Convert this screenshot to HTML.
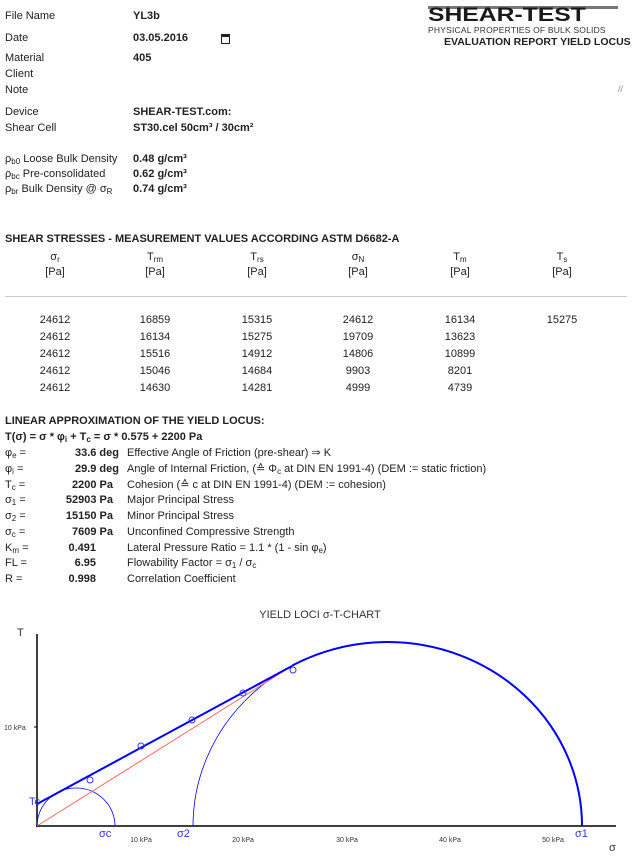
<!DOCTYPE html>
<html style="overflow:hidden"><head><meta charset="utf-8"><style>
html,body{margin:0;width:633px;height:861px;overflow:hidden}
body{background:#fff;font-family:"Liberation Sans",sans-serif;font-size:11px;color:#222;position:relative}
.a{position:absolute;white-space:nowrap;line-height:13px}
b{font-weight:bold}
sub{font-size:8px;vertical-align:-2px;line-height:0}
.c{position:absolute;width:80px;text-align:center;margin-left:-40px;line-height:13px}
.r{position:absolute;text-align:right;white-space:nowrap;line-height:13px}
</style></head><body>
<div class="a" style="left:5px;top:10px">File Name</div><div class="a" style="left:133px;top:10px"><b>YL3b</b></div>
<div class="a" style="left:5px;top:32px">Date</div><div class="a" style="left:133px;top:32px"><b>03.05.2016</b></div>
<div class="a" style="left:221px;top:34px;width:7px;height:6px;border:1.5px solid #222;border-top-width:3px"></div>
<div class="a" style="left:5px;top:52px">Material</div><div class="a" style="left:133px;top:52px"><b>405</b></div>
<div class="a" style="left:5px;top:68px">Client</div>
<div class="a" style="left:5px;top:84px">Note</div>
<div class="a" style="left:618px;top:83px;color:#888;font-size:9px">//</div>
<div class="a" style="left:5px;top:106px">Device</div><div class="a" style="left:133px;top:106px"><b>SHEAR-TEST.com:</b></div>
<div class="a" style="left:5px;top:122px">Shear Cell</div><div class="a" style="left:133px;top:122px"><b>ST30.cel 50cm³ / 30cm²</b></div>
<div class="a" style="left:5px;top:153px">ρ<sub>b0</sub> Loose Bulk Density</div><div class="a" style="left:133px;top:153px"><b>0.48 g/cm³</b></div>
<div class="a" style="left:5px;top:168px">ρ<sub>bc</sub> Pre-consolidated</div><div class="a" style="left:133px;top:168px"><b>0.62 g/cm³</b></div>
<div class="a" style="left:5px;top:183px">ρ<sub>br</sub> Bulk Density @ σ<sub>R</sub></div><div class="a" style="left:133px;top:183px"><b>0.74 g/cm³</b></div>

<div class="a" style="left:428px;top:6px;width:190px;height:3px;background:#777"></div>
<div class="a" style="left:428px;top:8px;font-size:19px;line-height:16px;font-weight:bold;color:#1a1a1a;transform:scaleX(1.3);transform-origin:top left">SHEAR-TEST</div>
<div class="a" style="left:428px;top:25px;font-size:8.5px;line-height:10px;color:#333;letter-spacing:0.2px">PHYSICAL PROPERTIES OF BULK SOLIDS</div>
<div class="a" style="left:444px;top:36px;font-size:10.5px;font-weight:bold">EVALUATION REPORT YIELD LOCUS</div>

<div class="a" style="left:5px;top:233px;font-weight:bold">SHEAR STRESSES - MEASUREMENT VALUES ACCORDING ASTM D6682-A</div>
<div class="c" style="left:55px;top:251px">σ<sub>r</sub></div><div class="c" style="left:155px;top:251px">T<sub>rm</sub></div><div class="c" style="left:257px;top:251px">T<sub>rs</sub></div><div class="c" style="left:358px;top:251px">σ<sub>N</sub></div><div class="c" style="left:460px;top:251px">T<sub>m</sub></div><div class="c" style="left:562px;top:251px">T<sub>s</sub></div>
<div class="c" style="left:55px;top:266px">[Pa]</div><div class="c" style="left:155px;top:266px">[Pa]</div><div class="c" style="left:257px;top:266px">[Pa]</div><div class="c" style="left:358px;top:266px">[Pa]</div><div class="c" style="left:460px;top:266px">[Pa]</div><div class="c" style="left:562px;top:266px">[Pa]</div>
<div class="a" style="left:5px;top:296px;width:622px;height:1px;background:#ccc"></div>
<div class="c" style="left:55px;top:312px;line-height:17px">24612<br>24612<br>24612<br>24612<br>24612</div>
<div class="c" style="left:155px;top:312px;line-height:17px">16859<br>16134<br>15516<br>15046<br>14630</div>
<div class="c" style="left:257px;top:312px;line-height:17px">15315<br>15275<br>14912<br>14684<br>14281</div>
<div class="c" style="left:358px;top:312px;line-height:17px">24612<br>19709<br>14806<br>9903<br>4999</div>
<div class="c" style="left:460px;top:312px;line-height:17px">16134<br>13623<br>10899<br>8201<br>4739</div>
<div class="c" style="left:562px;top:312px;line-height:17px">15275</div>

<div class="a" style="left:5px;top:415px;font-weight:bold">LINEAR APPROXIMATION OF THE YIELD LOCUS:</div>
<div class="a" style="left:5px;top:431px;font-weight:bold">T(σ) = σ * φ<sub>i</sub> + T<sub>c</sub> = σ * 0.575 + 2200 Pa</div>

<div class="a" style="left:5px;top:447px">φ<sub>e</sub> =</div><div class="r" style="right:514px;top:447px;font-weight:bold">33.6 deg</div><div class="a" style="left:127px;top:447px">Effective Angle of Friction (pre-shear) ⇒ K</div>
<div class="a" style="left:5px;top:463px">φ<sub>i</sub> =</div><div class="r" style="right:514px;top:463px;font-weight:bold">29.9 deg</div><div class="a" style="left:127px;top:463px">Angle of Internal Friction, (≙ Φ<sub>c</sub> at DIN EN 1991-4) (DEM := static friction)</div>
<div class="a" style="left:5px;top:479px">T<sub>c</sub> =</div><div class="r" style="right:520px;top:479px;font-weight:bold">2200 Pa</div><div class="a" style="left:127px;top:479px">Cohesion (≙ c at DIN EN 1991-4) (DEM := cohesion)</div>
<div class="a" style="left:5px;top:494px">σ<sub>1</sub> =</div><div class="r" style="right:520px;top:494px;font-weight:bold">52903 Pa</div><div class="a" style="left:127px;top:494px">Major Principal Stress</div>
<div class="a" style="left:5px;top:510px">σ<sub>2</sub> =</div><div class="r" style="right:520px;top:510px;font-weight:bold">15150 Pa</div><div class="a" style="left:127px;top:510px">Minor Principal Stress</div>
<div class="a" style="left:5px;top:526px">σ<sub>c</sub> =</div><div class="r" style="right:520px;top:526px;font-weight:bold">7609 Pa</div><div class="a" style="left:127px;top:526px">Unconfined Compressive Strength</div>
<div class="a" style="left:5px;top:542px">K<sub>m</sub> =</div><div class="r" style="right:537px;top:542px;font-weight:bold">0.491</div><div class="a" style="left:127px;top:542px">Lateral Pressure Ratio = 1.1 * (1 - sin φ<sub>e</sub>)</div>
<div class="a" style="left:5px;top:557px">FL =</div><div class="r" style="right:537px;top:557px;font-weight:bold">6.95</div><div class="a" style="left:127px;top:557px">Flowability Factor = σ<sub>1</sub> / σ<sub>c</sub></div>
<div class="a" style="left:5px;top:573px">R =</div><div class="r" style="right:537px;top:573px;font-weight:bold">0.998</div><div class="a" style="left:127px;top:573px">Correlation Coefficient</div>

<svg style="position:absolute;left:0;top:0;display:block" width="633" height="861">
<defs>
<clipPath id="up"><rect x="0" y="600" width="633" height="226"/></clipPath>
<clipPath id="right"><rect x="292" y="600" width="340" height="226"/></clipPath>
</defs>
<text x="320" y="618" font-size="11" text-anchor="middle" fill="#333" font-family="Liberation Sans">YIELD LOCI σ-T-CHART</text>
<text x="17" y="636" font-size="11" fill="#333" font-family="Liberation Sans">T</text>
<text x="609" y="851" font-size="11" fill="#333" font-family="Liberation Sans">σ</text>
<line x1="37" y1="634" x2="37" y2="827" stroke="#000" stroke-width="1.5"/>
<line x1="36" y1="826" x2="616" y2="826" stroke="#000" stroke-width="1.5"/>
<line x1="34" y1="727" x2="37" y2="727" stroke="#000"/>
<text x="4" y="730" font-size="7" fill="#333" font-family="Liberation Sans">10 kPa</text>
<g font-size="7" fill="#333" font-family="Liberation Sans" text-anchor="middle">
<text x="141" y="842">10 kPa</text><text x="243" y="842">20 kPa</text><text x="347" y="842">30 kPa</text><text x="450" y="842">40 kPa</text><text x="553" y="842">50 kPa</text></g>
<ellipse cx="387.5" cy="826" rx="194.5" ry="184" fill="none" stroke="#00f" stroke-width="0.8" clip-path="url(#up)"/>
<ellipse cx="387.5" cy="826" rx="194.5" ry="184" fill="none" stroke="#00f" stroke-width="2" clip-path="url(#right)"/>
<ellipse cx="76" cy="826" rx="39" ry="38" fill="none" stroke="#00f" stroke-width="0.8" clip-path="url(#up)"/>
<line x1="37" y1="826" x2="292" y2="666" stroke="#f66" stroke-width="1"/>
<line x1="37" y1="804" x2="292" y2="666" stroke="#00f" stroke-width="2"/>
<g fill="none" stroke="#33f" stroke-width="1"><circle cx="293" cy="670" r="3"/><circle cx="243" cy="693" r="3"/><circle cx="192" cy="720" r="3"/><circle cx="141" cy="746" r="3"/><circle cx="90" cy="780" r="3"/></g>
<g fill="#33f" font-size="11" font-family="Liberation Sans"><text x="29" y="805">Tc</text><text x="99" y="837">σc</text><text x="177" y="837">σ2</text><text x="575" y="837">σ1</text></g>
</svg>
</body></html>
